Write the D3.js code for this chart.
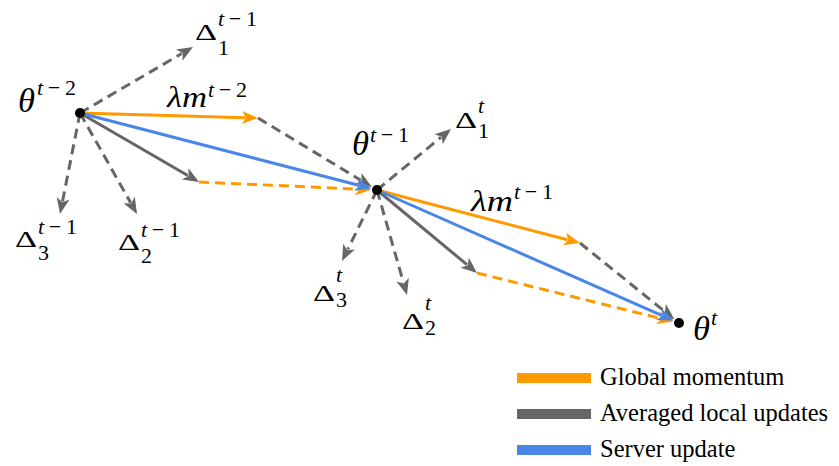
<!DOCTYPE html>
<html>
<head>
<meta charset="utf-8">
<script src="https://cdn.jsdelivr.net/npm/d3@7"></script>
<style>
  html, body { margin: 0; padding: 0; background: #fff; }
  svg { display: block; }
</style>
</head>
<body>
<svg id="fig" width="839" height="466"></svg>
<script>
// Parameter-space positions (y grows upward).
const iterateNames = ["t-2", "t-1", "t"];
const iterateX = [8.0, 37.7, 67.9];
const iterateY = [35.3, 27.6, 14.3];
// Tips of the momentum step λm and of the averaged local update, one per round.
const momentumX = [25.8, 58.0];
const momentumY = [34.8, 22.3];
const avgUpdateX = [19.9, 47.7];
const avgUpdateY = [28.4, 19.3];
// Tips of the client updates Δ1, Δ2, Δ3 in each round.
const clientX = [[19.3, 13.7, 6.0], [45.1, 40.7, 34.2]];
const clientY = [[41.9, 25.2, 25.2], [33.7, 17.1, 20.5]];
const legendLabels = ["Global momentum", "Averaged local updates", "Server update"];

const W = 839, H = 466;
const x = d3.scaleLinear().domain([0, 83.9]).range([0, W]);
const y = d3.scaleLinear().domain([0, 46.6]).range([H, 0]);

const COL = { momentum: "#ff9900", local: "#666666", server: "#4a86e8" };
const mathFont = "Liberation Serif, Times New Roman, serif";
const svg = d3.select("#fig");

const P = i => [x(iterateX[i]), y(iterateY[i])];
const M = i => [x(momentumX[i]), y(momentumY[i])];
const A = i => [x(avgUpdateX[i]), y(avgUpdateY[i])];
const C = (r, k) => [x(clientX[r][k]), y(clientY[r][k])];

const lineLayer = svg.append("g");

// Arrow from a to b; the head's tip sits at b (pulled back by `gap`).
function arrow(a, b, color, dashed, gap = 0, headLen = 16, headHalf = 6.5) {
  const dx = b[0] - a[0], dy = b[1] - a[1];
  const len = Math.hypot(dx, dy);
  const ux = dx / len, uy = dy / len;
  const tip = [b[0] - ux * gap, b[1] - uy * gap];
  const base = [tip[0] - ux * headLen, tip[1] - uy * headLen];
  const lineEnd = [tip[0] - ux * (headLen - 3), tip[1] - uy * (headLen - 3)];
  const g = lineLayer.append("g");
  g.append("line")
    .attr("x1", a[0]).attr("y1", a[1])
    .attr("x2", lineEnd[0]).attr("y2", lineEnd[1])
    .attr("stroke", color).attr("stroke-width", 3)
    .attr("stroke-dasharray", dashed ? "10,6" : null);
  g.append("path")
    .attr("d", d3.line()([
      tip,
      [base[0] - uy * headHalf, base[1] + ux * headHalf],
      [base[0] + ux * 4, base[1] + uy * 4],
      [base[0] + uy * headHalf, base[1] - ux * headHalf]
    ]) + "Z")
    .attr("fill", color);
  return g;
}

const DOT_GAP = 6;

// Client update fans (dashed grey)
[0, 1].forEach(r => {
  [0, 1, 2].forEach(k => arrow(P(r), C(r, k), COL.local, true));
});

// Parallelogram completions (dashed)
[0, 1].forEach(r => {
  arrow(M(r), P(r + 1), COL.local, true, DOT_GAP);
  arrow(A(r), P(r + 1), COL.momentum, true, DOT_GAP);
});

// Averaged local update and momentum steps (solid)
[0, 1].forEach(r => {
  arrow(P(r), A(r), COL.local, false);
  arrow(P(r), M(r), COL.momentum, false);
});

// Server update (solid blue)
[0, 1].forEach(r => arrow(P(r), P(r + 1), COL.server, false, DOT_GAP));

// Iterate points
svg.append("g").selectAll("circle")
  .data(iterateNames)
  .join("circle")
  .attr("cx", (d, i) => P(i)[0])
  .attr("cy", (d, i) => P(i)[1])
  .attr("r", 5)
  .attr("fill", "#000");

// ---- math labels ----
const labelLayer = svg.append("g");

function styled(sel, size, italic) {
  return sel.attr("font-family", mathFont).attr("font-size", size)
    .attr("font-style", italic ? "italic" : "normal").attr("font-weight", "normal").attr("fill", "#000");
}
function runs(sel, parts, size) {
  parts.forEach(([t, it]) => styled(sel.append("tspan"), size, it).text(t));
}
function supText(s) { // "t-1" -> t (italic), −1 (upright)
  const parts = [["t", true]];
  if (s !== "t") parts.push(["\u2212" + s.slice(2), false]);
  return parts;
}

function mathLabel(anchor, spec) {
  const [ax, ay] = anchor;
  const g = labelLayer.append("g");
  const mx = ax + spec.main[0], my = ay + spec.main[1];
  const main = styled(g.append("text"), spec.size, false).attr("x", mx).attr("y", my);
  runs(main, spec.body, spec.size);
  if (spec.mainWidth) main.attr("textLength", spec.mainWidth).attr("lengthAdjust", "spacingAndGlyphs");
  const mw = spec.mainWidth || main.node().getComputedTextLength();
  const sx = mx + mw + (spec.gap || 1);
  if (spec.sup) {
    const t = styled(g.append("text"), 22, false).attr("x", sx).attr("y", my + spec.supDy);
    runs(t, supText(spec.sup), 22);
    if (spec.sup !== "t") t.attr("textLength", 39).attr("lengthAdjust", "spacing");
  }
  if (spec.sub) {
    styled(g.append("text"), 22, false)
      .attr("x", sx).attr("y", my + spec.subDy)
      .text(spec.sub);
  }
}

const theta = [["\u03B8", true]];
const delta = [["\u0394", false]];
const lamM = [["\u03BB", true], ["m", true]];

// iterates θ
mathLabel(P(0), { body: theta, size: 34, main: [-62, -1], mainWidth: 17, sup: iterateNames[0], supDy: -17, gap: 2 });
mathLabel(P(1), { body: theta, size: 34, main: [-25, -35], mainWidth: 17, sup: iterateNames[1], supDy: -13, gap: 1 });
mathLabel(P(2), { body: theta, size: 34, main: [14, 17], mainWidth: 17, sup: iterateNames[2], supDy: -15, gap: 1 });

// momentum labels λm
mathLabel(M(0), { body: lamM, size: 30, main: [-91, -11], mainWidth: 40, sup: iterateNames[0], supDy: -10, gap: 1 });
mathLabel(M(1), { body: lamM, size: 30, main: [-109, -32], mainWidth: 42, sup: iterateNames[1], supDy: -12, gap: 1 });

// client update labels Δ_k  (main offset, sup / sub baseline shifts)
const deltaLayout = [
  [ // round t-1
    { main: [2, -7], supDy: -14, subDy: 15 },
    { main: [-19, 36], supDy: -13, subDy: 13 },
    { main: [-45, 33], supDy: -13, subDy: 13 }
  ],
  [ // round t
    { main: [4, -1], supDy: -15, subDy: 10 },
    { main: [-5, 34], supDy: -19, subDy: 6 },
    { main: [-29, 40], supDy: -19, subDy: 6 }
  ]
];
[0, 1].forEach(r => {
  [0, 1, 2].forEach(k => {
    const L = deltaLayout[r][k];
    mathLabel(C(r, k), {
      body: delta, size: 24, main: L.main, mainWidth: 22, gap: 1,
      sup: iterateNames[r + 1], supDy: L.supDy,
      sub: String(k + 1), subDy: L.subDy
    });
  });
});

// ---- legend ----
const legendColors = [COL.momentum, COL.local, COL.server];
const legend = svg.append("g").attr("transform", "translate(517,373)");
const item = legend.selectAll("g").data(legendLabels).join("g")
  .attr("transform", (d, i) => `translate(0,${i * 36})`);
item.append("rect").attr("width", 74).attr("height", 10).attr("fill", (d, i) => legendColors[i]);
styled(item.append("text"), 24.5, false)
  .attr("x", 83).attr("y", 12)
  .text(d => d);
</script>
</body>
</html>
